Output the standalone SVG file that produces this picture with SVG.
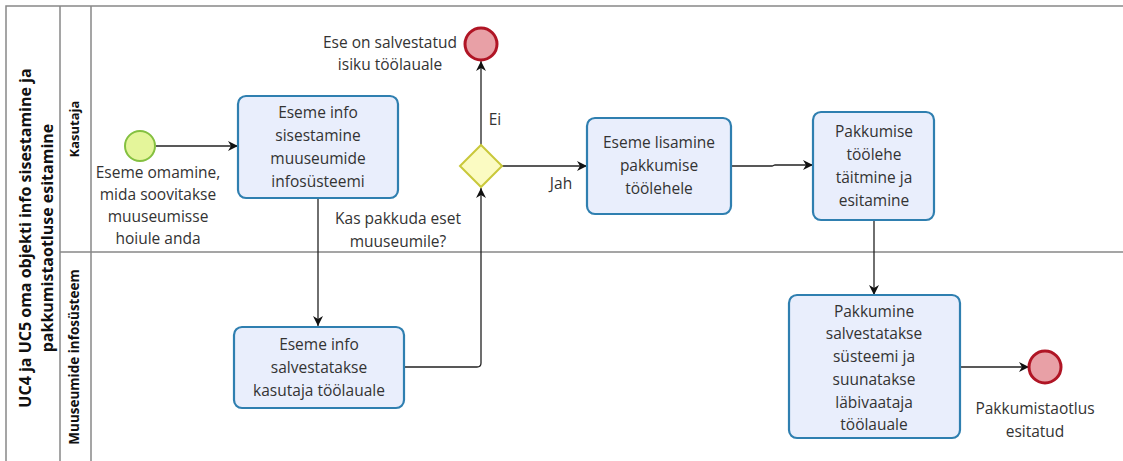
<svg xmlns="http://www.w3.org/2000/svg" width="1123" height="461" viewBox="0 0 1123 461">
<defs>
<marker id="arr" viewBox="0 0 10 10" refX="10" refY="5" markerWidth="10" markerHeight="10" markerUnits="userSpaceOnUse" orient="auto">
<path d="M0,0 L10,5 L0,10 L3,5 z" fill="#111"/>
</marker>
<style>
.pool{stroke:#888;stroke-width:1.5;fill:none}
.task{fill:#e9eefc;stroke:#2f7fb0;stroke-width:2.2}
.t{font-family:"Open Sans","Noto Sans",sans-serif;font-size:15.5px;fill:#333;text-anchor:middle}
.h{font-family:"Open Sans","Noto Sans",sans-serif;font-weight:bold;fill:#111;text-anchor:middle}
.c{fill:none;stroke:#222;stroke-width:1.3}
.end{fill:#e8a0a6;stroke:#b01525;stroke-width:3}
</style>
</defs>
<rect width="1123" height="461" fill="#fff"/>
<g id="pool">
<path class="pool" d="M6,470 V6 H1123 M60,6 V470 M91,6 V470 M60,252 H1123"/>
<text class="h" font-size="16" transform="translate(31,238) rotate(-90)">UC4 ja UC5 oma objekti info sisestamine ja</text>
<text class="h" font-size="16" transform="translate(53,238) rotate(-90)">pakkumistaotluse esitamine</text>
</g>
<g id="lane-kasutaja"><text class="h" font-size="13" transform="translate(79,129) rotate(-90)">Kasutaja</text></g>
<g id="lane-mis"><text class="h" font-size="13.5" transform="translate(79,357) rotate(-90)">Muuseumide infosüsteem</text></g>
<g id="connectors">
<path class="c" d="M156,146 H238" marker-end="url(#arr)"/>
<path class="c" d="M318,198 V326" marker-end="url(#arr)"/>
<path class="c" d="M404,367 H477 Q481,367 481,363 V188" marker-end="url(#arr)"/>
<path class="c" d="M481,145 V61" marker-end="url(#arr)"/>
<path class="c" d="M502,166 H587" marker-end="url(#arr)"/>
<path class="c" d="M731,166 H772 L775,165 H813" marker-end="url(#arr)"/>
<path class="c" d="M874,220 V295" marker-end="url(#arr)"/>
<path class="c" d="M960,367 H1029" marker-end="url(#arr)"/>
<text class="t" x="495" y="125">Ei</text>
<text class="t" x="561" y="189">Jah</text>
</g>
<g id="start">
<circle cx="140" cy="146" r="15" fill="#e4f59a" stroke="#84c040" stroke-width="2"/>
<text class="t"><tspan x="158" y="178">Eseme omamine,</tspan><tspan x="158" y="200">mida soovitakse</tspan><tspan x="158" y="222">muuseumisse</tspan><tspan x="158" y="244">hoiule anda</tspan></text>
</g>
<g id="task1">
<rect class="task" x="238" y="96" width="160" height="102" rx="8"/>
<text class="t"><tspan x="318" y="118">Eseme info</tspan><tspan x="318" y="141">sisestamine</tspan><tspan x="318" y="164">muuseumide</tspan><tspan x="318" y="187">infosüsteemi</tspan></text>
</g>
<g id="task2">
<rect class="task" x="234" y="327" width="170" height="81" rx="8"/>
<text class="t"><tspan x="319" y="350">Eseme info</tspan><tspan x="319" y="373">salvestatakse</tspan><tspan x="319" y="396">kasutaja töölauale</tspan></text>
</g>
<g id="gateway">
<path d="M481,145 L502,166 L481,187 L460,166 Z" fill="#fbfbc2" stroke="#c9c83a" stroke-width="2"/>
<text class="t"><tspan x="398" y="224">Kas pakkuda eset</tspan><tspan x="398" y="247">muuseumile?</tspan></text>
</g>
<g id="end1">
<circle class="end" cx="481" cy="44" r="16"/>
<text class="t"><tspan x="390" y="48">Ese on salvestatud</tspan><tspan x="390" y="70">isiku töölauale</tspan></text>
</g>
<g id="task3">
<rect class="task" x="587" y="118" width="144" height="96" rx="8"/>
<text class="t"><tspan x="659" y="148">Eseme lisamine</tspan><tspan x="659" y="171">pakkumise</tspan><tspan x="659" y="194">töölehele</tspan></text>
</g>
<g id="task4">
<rect class="task" x="813" y="112" width="121" height="108" rx="8"/>
<text class="t"><tspan x="874" y="137">Pakkumise</tspan><tspan x="874" y="160">töölehe</tspan><tspan x="874" y="183">täitmine ja</tspan><tspan x="874" y="206">esitamine</tspan></text>
</g>
<g id="task5">
<rect class="task" x="789" y="295" width="171" height="143" rx="8"/>
<text class="t"><tspan x="874" y="317">Pakkumine</tspan><tspan x="874" y="339">salvestatakse</tspan><tspan x="874" y="362">süsteemi ja</tspan><tspan x="874" y="385">suunatakse</tspan><tspan x="874" y="408">läbivaataja</tspan><tspan x="874" y="430">töölauale</tspan></text>
</g>
<g id="end2">
<circle class="end" cx="1045" cy="367" r="16"/>
<text class="t"><tspan x="1035" y="414">Pakkumistaotlus</tspan><tspan x="1035" y="437">esitatud</tspan></text>
</g>
</svg>
